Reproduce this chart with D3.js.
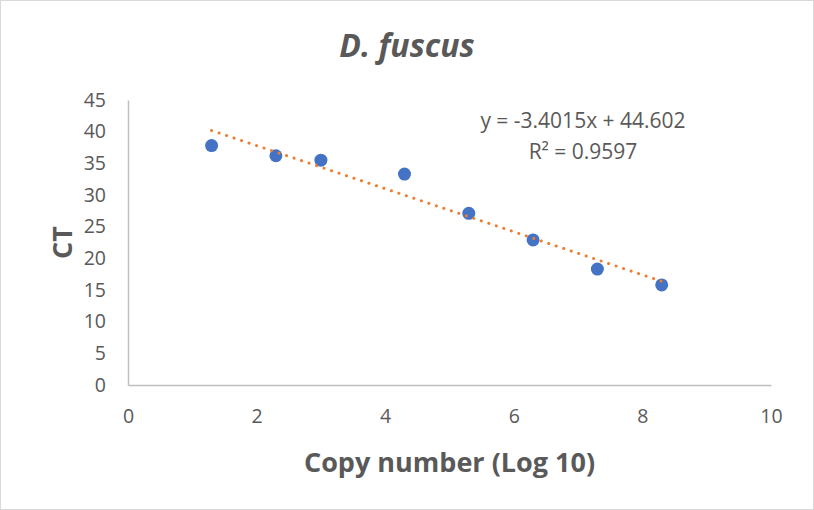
<!DOCTYPE html>
<html>
<head>
<meta charset="utf-8">
<script src="https://cdn.jsdelivr.net/npm/d3@7"></script>
<style>
  body { margin: 0; background: #fff; }
  text { font-family: "Open Sans", "Noto Sans", sans-serif; fill: #595959; }
</style>
</head>
<body>
<div id="chart"></div>
<script>
// data
var copyLog = [1.3, 2.3, 3.0, 4.3, 5.3, 6.3, 7.3, 8.3];
var ctValues = [37.8, 36.2, 35.5, 33.3, 27.1, 22.9, 18.3, 15.8];
var xTicks = [0, 2, 4, 6, 8, 10];
var yTicks = [0, 5, 10, 15, 20, 25, 30, 35, 40, 45];
var slope = -3.4015, intercept = 44.602, r2 = 0.9597;

var W = 814, H = 510;
var margin = {top: 100, bottom: 125, right: 43, left: 128};
var w = W - margin.left - margin.right;
var h = H - margin.top - margin.bottom;

var root = d3.select('#chart').append('svg')
    .attr('width', W)
    .attr('height', H);

// outer border
root.append('rect')
    .attr('x', 0.5).attr('y', 0.5)
    .attr('width', W - 1).attr('height', H - 1)
    .attr('fill', '#fff')
    .attr('stroke', '#d9d9d9');

var svg = root.append('g')
    .attr('transform', 'translate(' + margin.left + ',' + margin.top + ')');

var x = d3.scaleLinear().domain([0, 10]).range([0, w]);
var y = d3.scaleLinear().domain([0, 45]).range([h, 0]);

// axes
var xAxis = svg.append('g')
    .attr('transform', 'translate(0,' + h + ')')
    .call(d3.axisBottom(x).tickValues(xTicks).tickSize(0).tickPadding(24));
var yAxis = svg.append('g')
    .call(d3.axisLeft(y).tickValues(yTicks).tickSize(0).tickPadding(22));

[xAxis, yAxis].forEach(function(a) {
    a.select('.domain').attr('stroke', '#bfbfbf').attr('stroke-width', 1.5);
    a.selectAll('text')
        .style('font-family', '"Open Sans", sans-serif')
        .style('font-size', '19.5px')
        .attr('fill', '#595959');
});

// points
svg.selectAll('.pt')
    .data(copyLog)
    .enter()
    .append('circle')
        .attr('class', 'pt')
        .attr('cx', function(d) { return x(d); })
        .attr('cy', function(d, i) { return y(ctValues[i]); })
        .attr('r', 6.5)
        .attr('fill', '#4472c4');

// linear trendline
var x0 = d3.min(copyLog), x1 = d3.max(copyLog);
svg.append('line')
    .attr('x1', x(x0)).attr('y1', y(slope * x0 + intercept))
    .attr('x2', x(x1)).attr('y2', y(slope * x1 + intercept))
    .attr('stroke', '#ed7d31')
    .attr('stroke-width', 3)
    .attr('stroke-linecap', 'round')
    .attr('stroke-dasharray', '0.1 7.8');

// equation
svg.append('text')
    .attr('x', 455).attr('y', 28)
    .attr('text-anchor', 'middle')
    .style('font-size', '21px')
    .text('y = ' + slope + 'x + ' + intercept);
svg.append('text')
    .attr('x', 455).attr('y', 59)
    .attr('text-anchor', 'middle')
    .style('font-size', '21px')
    .text('R² = ' + r2);

// title
root.append('text')
    .attr('x', 407).attr('y', 57)
    .attr('text-anchor', 'middle')
    .style('font-size', '32px')
    .style('font-weight', 'bold')
    .style('font-style', 'italic')
    .text('D. fuscus');

// axis titles
root.append('text')
    .attr('x', margin.left + w / 2).attr('y', 472)
    .attr('text-anchor', 'middle')
    .style('font-size', '27px')
    .style('font-weight', 'bold')
    .text('Copy number (Log 10)');

root.append('text')
    .attr('transform', 'translate(72,' + (margin.top + h / 2) + ')rotate(-90)')
    .attr('text-anchor', 'middle')
    .style('font-size', '27px')
    .style('font-weight', 'bold')
    .text('CT');
</script>
</body>
</html>
